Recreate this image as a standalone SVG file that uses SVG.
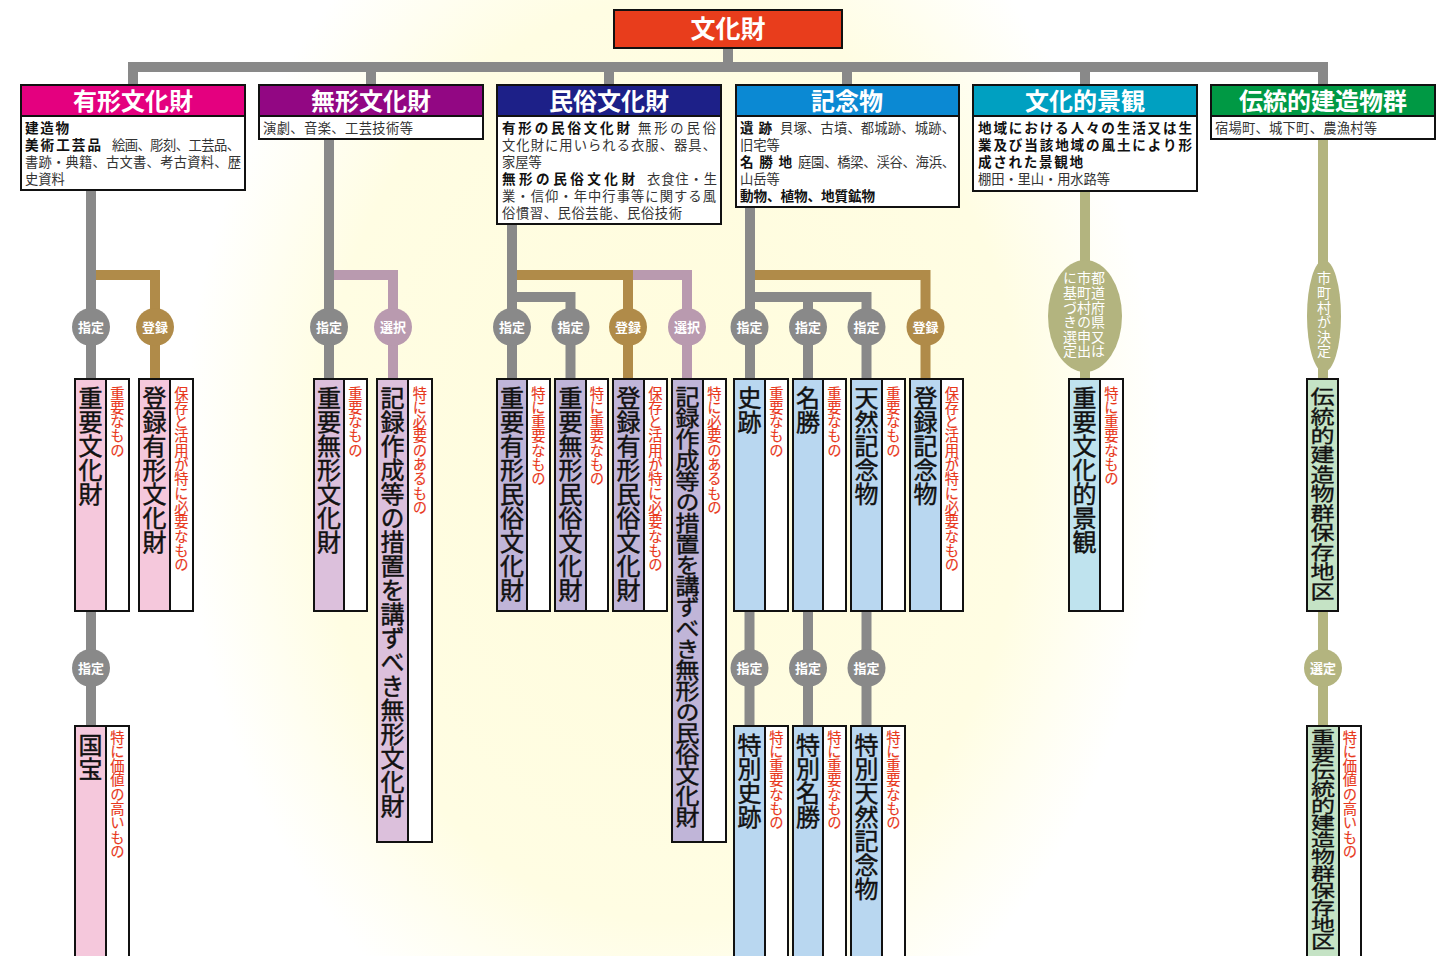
<svg xmlns="http://www.w3.org/2000/svg" width="1455" height="956" viewBox="0 0 1455 956">
<defs>
<radialGradient id="bg" gradientUnits="userSpaceOnUse" cx="0" cy="0" r="1" gradientTransform="translate(672,460) scale(490,640)">
<stop offset="0" stop-color="#fffcdc"/>
<stop offset="0.72" stop-color="#fffde3"/>
<stop offset="1" stop-color="#ffffff"/>
</radialGradient>
<style>
text{font-family:"Noto Sans CJK JP","Noto Sans CJK SC",sans-serif;}
.ln{fill:none;stroke-width:10;stroke-linejoin:miter;stroke-linecap:butt;}
.gr{stroke:#898989;} .go{stroke:#b08b49;} .mv{stroke:#b99aaf;} .ol{stroke:#b3b47f;}
.hd{stroke:#111;stroke-width:2;}
.bd{fill:#fff;stroke:#111;stroke-width:2;}
.ht{fill:#fff;font-size:24px;font-weight:bold;text-anchor:middle;}
.b{fill:#111;font-size:13.6px;font-weight:bold;}
.r{fill:#333;font-size:13.3px;}
.cl{fill:#fff;font-size:13px;font-weight:bold;text-anchor:middle;}
.vb{stroke:#111;stroke-width:2;}
.vt{writing-mode:vertical-rl;}
.mt{fill:#111;font-size:24px;stroke:#111;stroke-width:0.45;}
.nt{fill:#e8381c;font-size:14.3px;stroke:#e8381c;stroke-width:0.15;}
.ot{fill:#fff;font-size:14px;letter-spacing:0.6px;}
.pk{fill:#f5c8dc;} .pp{fill:#dcc0dc;} .lv{fill:#c0b5d8;} .lb{fill:#b9d7f0;} .cy{fill:#bfe3ee;} .gn{fill:#c5e3c5;}
</style>
</defs>
<rect width="1455" height="956" fill="url(#bg)"/>

<g id="connectors">
<path class="ln gr" d="M728,48 V67 M133,85 V67 H1323 V85 M371,67 V85 M609,67 V85 M847,67 V85 M1085,67 V85"/>
<path class="ln go" d="M91,275 H155 V379"/>
<path class="ln gr" d="M91,190 V379 M91,611 V726"/>
<path class="ln mv" d="M329,275 H393 V379"/>
<path class="ln gr" d="M329,139 V379"/>
<path class="ln mv" d="M628,275 H687 V379"/>
<path class="ln go" d="M512,275 H628 V379"/>
<path class="ln gr" d="M512,224 V379 M512,297 H570.5 V379"/>
<path class="ln go" d="M750,275 H925.5 V379"/>
<path class="ln gr" d="M750,207 V379 M750,297 H866.5 V379 M808,297 V379 M749.5,611 V726 M808,611 V726 M866.5,611 V726"/>
<path class="ln ol" d="M1085,191 V379 M1323,139 V379 M1323,611 V726"/>
</g>

<g id="circles">
<circle cx="91" cy="327" r="19" fill="#898989"/><text class="cl" x="91" y="331.5">指定</text>
<circle cx="155" cy="327" r="19" fill="#b08b49"/><text class="cl" x="155" y="331.5">登録</text>
<circle cx="329" cy="327" r="19" fill="#898989"/><text class="cl" x="329" y="331.5">指定</text>
<circle cx="393" cy="327" r="19" fill="#b99aaf"/><text class="cl" x="393" y="331.5">選択</text>
<circle cx="512" cy="327" r="19" fill="#898989"/><text class="cl" x="512" y="331.5">指定</text>
<circle cx="570.5" cy="327" r="19" fill="#898989"/><text class="cl" x="570.5" y="331.5">指定</text>
<circle cx="628" cy="327" r="19" fill="#b08b49"/><text class="cl" x="628" y="331.5">登録</text>
<circle cx="687" cy="327" r="19" fill="#b99aaf"/><text class="cl" x="687" y="331.5">選択</text>
<circle cx="749.5" cy="327" r="19" fill="#898989"/><text class="cl" x="749.5" y="331.5">指定</text>
<circle cx="808" cy="327" r="19" fill="#898989"/><text class="cl" x="808" y="331.5">指定</text>
<circle cx="866.5" cy="327" r="19" fill="#898989"/><text class="cl" x="866.5" y="331.5">指定</text>
<circle cx="925.5" cy="327" r="19" fill="#b08b49"/><text class="cl" x="925.5" y="331.5">登録</text>
<circle cx="91" cy="668" r="19" fill="#898989"/><text class="cl" x="91" y="672.5">指定</text>
<circle cx="749.5" cy="668" r="19" fill="#898989"/><text class="cl" x="749.5" y="672.5">指定</text>
<circle cx="808" cy="668" r="19" fill="#898989"/><text class="cl" x="808" y="672.5">指定</text>
<circle cx="866.5" cy="668" r="19" fill="#898989"/><text class="cl" x="866.5" y="672.5">指定</text>
<circle cx="1323" cy="668" r="19" fill="#b3b47f"/><text class="cl" x="1323" y="672.5">選定</text>
<ellipse cx="1085" cy="316" rx="37" ry="56" fill="#b3b47f"/>
<text class="vt ot" x="1098" y="271">都道府県又は</text>
<text class="vt ot" x="1084" y="271">市町村の申出</text>
<text class="vt ot" x="1070" y="271">に基づき選定</text>
<ellipse cx="1324" cy="316" rx="17" ry="56" fill="#b3b47f"/>
<text class="vt ot" x="1324" y="271">市町村が決定</text>
</g>

<g id="n-bunkazai">
<rect x="614" y="10" width="228" height="38" fill="#e83d1c" class="hd"/>
<text class="ht" x="728" y="38" style="font-size:25px">文化財</text>
</g>

<g id="n-yukei">
<rect x="21" y="85" width="224" height="105" class="bd"/>
<rect x="21" y="85" width="224" height="31" fill="#e4007f" class="hd"/>
<text class="ht" x="133" y="110">有形文化財</text>
<text class="b" x="25" y="132.5" textLength="44" lengthAdjust="spacing">建造物</text>
<text class="b" x="25" y="149.5" textLength="76" lengthAdjust="spacing">美術工芸品</text>
<text class="r" x="112" y="149.5" textLength="128" lengthAdjust="spacing">絵画、彫刻、工芸品、</text>
<text class="r" x="25" y="166.5" textLength="216" lengthAdjust="spacing">書跡・典籍、古文書、考古資料、歴</text>
<text class="r" x="25" y="183.5">史資料</text>
</g>

<g id="n-mukei">
<rect x="259" y="85" width="224" height="54" class="bd"/>
<rect x="259" y="85" width="224" height="31" fill="#920783" class="hd"/>
<text class="ht" x="371" y="110">無形文化財</text>
<text class="r" x="263" y="132.5" textLength="150" lengthAdjust="spacing">演劇、音楽、工芸技術等</text>
</g>

<g id="n-minzoku">
<rect x="497" y="85" width="224" height="139" class="bd"/>
<rect x="497" y="85" width="224" height="31" fill="#1d2088" class="hd"/>
<text class="ht" x="609" y="110">民俗文化財</text>
<text class="b" x="502" y="132.5" textLength="128" lengthAdjust="spacing">有形の民俗文化財</text>
<text class="r" x="638" y="132.5" textLength="78" lengthAdjust="spacing">無形の民俗</text>
<text class="r" x="502" y="149.5" textLength="214" lengthAdjust="spacing">文化財に用いられる衣服、器具、</text>
<text class="r" x="502" y="166.5">家屋等</text>
<text class="b" x="502" y="183.5" textLength="133" lengthAdjust="spacing">無形の民俗文化財</text>
<text class="r" x="647" y="183.5" textLength="70" lengthAdjust="spacing">衣食住・生</text>
<text class="r" x="502" y="200.5" textLength="214" lengthAdjust="spacing">業・信仰・年中行事等に関する風</text>
<text class="r" x="502" y="217.5" textLength="180" lengthAdjust="spacing">俗慣習、民俗芸能、民俗技術</text>
</g>

<g id="n-kinenbutsu">
<rect x="736" y="85" width="223" height="122" class="bd"/>
<rect x="736" y="85" width="223" height="31" fill="#0b89d3" class="hd"/>
<text class="ht" x="847" y="110">記念物</text>
<text class="b" x="740" y="132.5" textLength="32" lengthAdjust="spacing">遺跡</text>
<text class="r" x="780" y="132.5" textLength="175" lengthAdjust="spacing">貝塚、古墳、都城跡、城跡、</text>
<text class="r" x="740" y="149.5">旧宅等</text>
<text class="b" x="740" y="166.5" textLength="52" lengthAdjust="spacing">名勝地</text>
<text class="r" x="798" y="166.5" textLength="157" lengthAdjust="spacing">庭園、橋梁、渓谷、海浜、</text>
<text class="r" x="740" y="183.5">山岳等</text>
<text class="b" x="740" y="200.5" textLength="135" lengthAdjust="spacing">動物、植物、地質鉱物</text>
</g>

<g id="n-keikan">
<rect x="973" y="85" width="224" height="106" class="bd"/>
<rect x="973" y="85" width="224" height="31" fill="#00a0c1" class="hd"/>
<text class="ht" x="1085" y="110">文化的景観</text>
<text class="b" x="978" y="132.5" textLength="214" lengthAdjust="spacing">地域における人々の生活又は生</text>
<text class="b" x="978" y="149.8" textLength="214" lengthAdjust="spacing">業及び当該地域の風土により形</text>
<text class="b" x="978" y="167.1" textLength="105" lengthAdjust="spacing">成された景観地</text>
<text class="r" x="978" y="184.4" textLength="132" lengthAdjust="spacing">棚田・里山・用水路等</text>
</g>

<g id="n-dentou">
<rect x="1211" y="85" width="224" height="54" class="bd"/>
<rect x="1211" y="85" width="224" height="31" fill="#009944" class="hd"/>
<text class="ht" x="1323" y="110">伝統的建造物群</text>
<text class="r" x="1215" y="132.5" textLength="162" lengthAdjust="spacing">宿場町、城下町、農漁村等</text>
</g>

<g id="v-juyoubunkazai"><rect x="75" y="379" width="54" height="232" fill="#fff" class="vb"/><rect x="75" y="379" width="31" height="232" class="pk vb"/>
<text class="vt mt" x="90.5" y="386">重要文化財</text><text class="vt nt" x="117.5" y="386">重要なもの</text></g>
<g id="v-tourokuyukei"><rect x="139" y="379" width="54" height="232" fill="#fff" class="vb"/><rect x="139" y="379" width="31" height="232" class="pk vb"/>
<text class="vt mt" x="154.5" y="386">登録有形文化財</text><text class="vt nt" x="181.5" y="386">保存と活用が特に必要なもの</text></g>
<g id="v-juyoumukei"><rect x="314" y="379" width="53" height="232" fill="#fff" class="vb"/><rect x="314" y="379" width="30" height="232" class="pp vb"/>
<text class="vt mt" x="329" y="386">重要無形文化財</text><text class="vt nt" x="355.5" y="386">重要なもの</text></g>
<g id="v-kirokumukei"><rect x="377" y="379" width="55" height="463" fill="#fff" class="vb"/><rect x="377" y="379" width="31" height="463" class="pp vb"/>
<text class="vt mt" x="392.5" y="386">記録作成等の措置を講ずべき無形文化財</text><text class="vt nt" x="420" y="386">特に必要のあるもの</text></g>
<g id="v-juyouyukeiminzoku"><rect x="497" y="379" width="53" height="232" fill="#fff" class="vb"/><rect x="497" y="379" width="30" height="232" class="lv vb"/>
<text class="vt mt" x="512" y="386">重要有形民俗文化財</text><text class="vt nt" x="538.5" y="386">特に重要なもの</text></g>
<g id="v-juyoumukeiminzoku"><rect x="555" y="379" width="53" height="232" fill="#fff" class="vb"/><rect x="555" y="379" width="31" height="232" class="lv vb"/>
<text class="vt mt" x="570.5" y="386">重要無形民俗文化財</text><text class="vt nt" x="597" y="386">特に重要なもの</text></g>
<g id="v-tourokuyukeiminzoku"><rect x="613" y="379" width="54" height="232" fill="#fff" class="vb"/><rect x="613" y="379" width="31" height="232" class="lv vb"/>
<text class="vt mt" x="628.5" y="386">登録有形民俗文化財</text><text class="vt nt" x="655.5" y="386">保存と活用が特に必要なもの</text></g>
<g id="v-kirokuminzoku"><rect x="672" y="379" width="54" height="463" fill="#fff" class="vb"/><rect x="672" y="379" width="31" height="463" class="lv vb"/>
<text class="vt mt" x="687.5" y="386" textLength="442" lengthAdjust="spacingAndGlyphs">記録作成等の措置を講ずべき無形の民俗文化財</text><text class="vt nt" x="714.5" y="386">特に必要のあるもの</text></g>
<g id="v-shiseki"><rect x="734" y="379" width="54" height="232" fill="#fff" class="vb"/><rect x="734" y="379" width="31" height="232" class="lb vb"/>
<text class="vt mt" x="749.5" y="386">史跡</text><text class="vt nt" x="776.5" y="386">重要なもの</text></g>
<g id="v-meishou"><rect x="793" y="379" width="53" height="232" fill="#fff" class="vb"/><rect x="793" y="379" width="30" height="232" class="lb vb"/>
<text class="vt mt" x="808" y="386">名勝</text><text class="vt nt" x="834.5" y="386">重要なもの</text></g>
<g id="v-tennen"><rect x="851" y="379" width="54" height="232" fill="#fff" class="vb"/><rect x="851" y="379" width="31" height="232" class="lb vb"/>
<text class="vt mt" x="866.5" y="386">天然記念物</text><text class="vt nt" x="893.5" y="386">重要なもの</text></g>
<g id="v-tourokukinen"><rect x="910" y="379" width="53" height="232" fill="#fff" class="vb"/><rect x="910" y="379" width="31" height="232" class="lb vb"/>
<text class="vt mt" x="925.5" y="386">登録記念物</text><text class="vt nt" x="952" y="386">保存と活用が特に必要なもの</text></g>
<g id="v-juyoukeikan"><rect x="1069" y="379" width="54" height="232" fill="#fff" class="vb"/><rect x="1069" y="379" width="31" height="232" class="cy vb"/>
<text class="vt mt" x="1084.5" y="386">重要文化的景観</text><text class="vt nt" x="1111.5" y="386">特に重要なもの</text></g>
<g id="v-dentouchiku"><rect x="1307" y="379" width="31" height="232" class="gn vb"/>
<text class="vt mt" x="1322.5" y="387" textLength="214" lengthAdjust="spacingAndGlyphs">伝統的建造物群保存地区</text></g>

<g id="v-kokuhou"><rect x="75" y="726" width="54" height="250" fill="#fff" class="vb"/><rect x="75" y="726" width="31" height="250" class="pk vb"/>
<text class="vt mt" x="90.5" y="733">国宝</text><text class="vt nt" x="117.5" y="730">特に価値の高いもの</text></g>
<g id="v-tokubetsushiseki"><rect x="734" y="726" width="54" height="250" fill="#fff" class="vb"/><rect x="734" y="726" width="31" height="250" class="lb vb"/>
<text class="vt mt" x="749.5" y="733">特別史跡</text><text class="vt nt" x="776.5" y="730">特に重要なもの</text></g>
<g id="v-tokubetsumeishou"><rect x="793" y="726" width="53" height="250" fill="#fff" class="vb"/><rect x="793" y="726" width="30" height="250" class="lb vb"/>
<text class="vt mt" x="808" y="733">特別名勝</text><text class="vt nt" x="834.5" y="730">特に重要なもの</text></g>
<g id="v-tokubetsutennen"><rect x="851" y="726" width="54" height="250" fill="#fff" class="vb"/><rect x="851" y="726" width="31" height="250" class="lb vb"/>
<text class="vt mt" x="866.5" y="733">特別天然記念物</text><text class="vt nt" x="893.5" y="730">特に重要なもの</text></g>
<g id="v-juyoudentou"><rect x="1307" y="726" width="54" height="250" fill="#fff" class="vb"/><rect x="1307" y="726" width="32" height="250" class="gn vb"/>
<text class="vt mt" x="1323" y="729" textLength="221" lengthAdjust="spacingAndGlyphs">重要伝統的建造物群保存地区</text><text class="vt nt" x="1350" y="730">特に価値の高いもの</text></g>
</svg>
